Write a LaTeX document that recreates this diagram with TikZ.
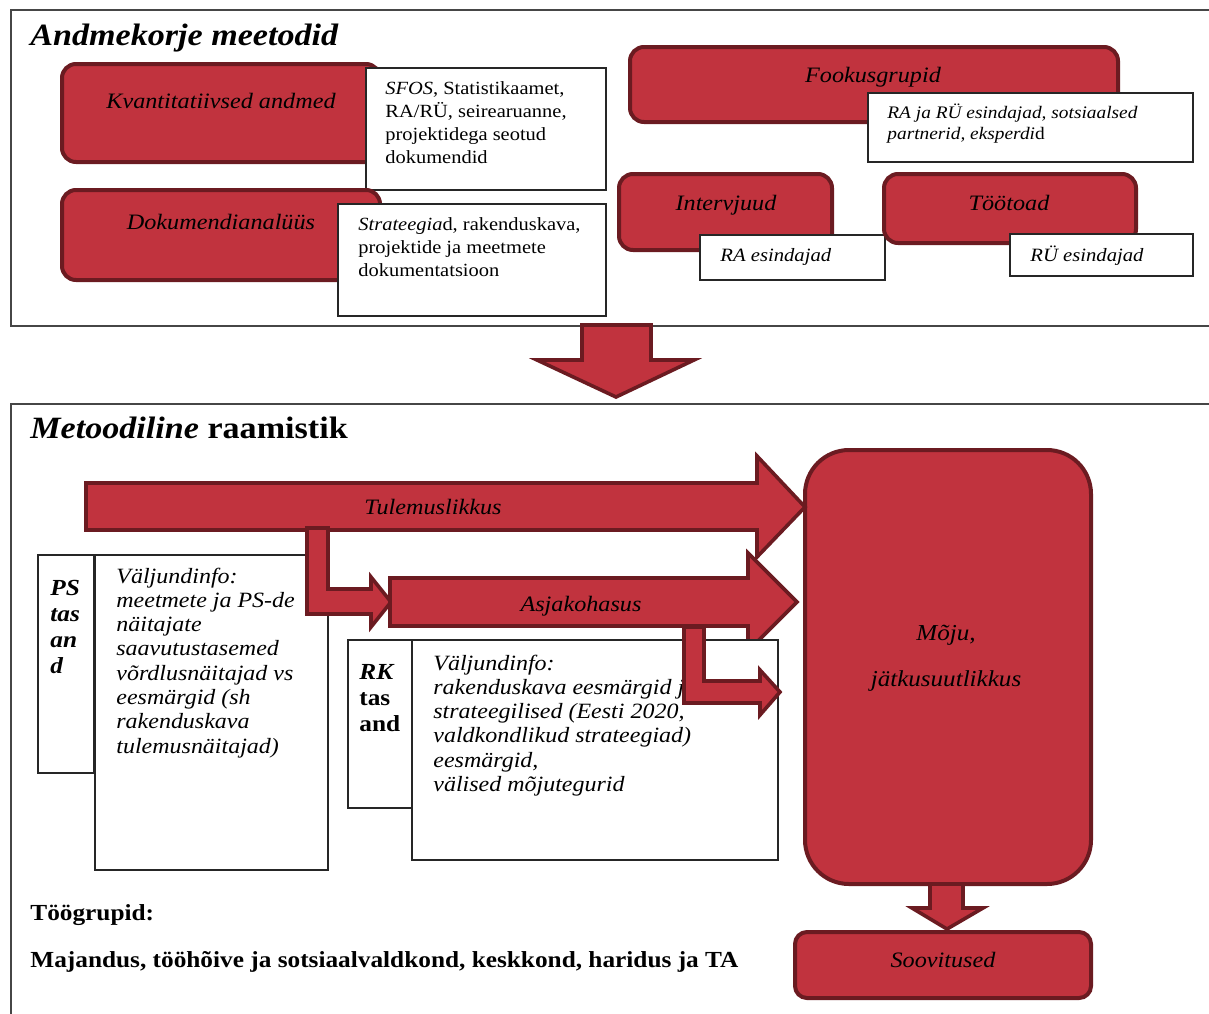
\documentclass[tikz,border=0pt]{standalone}
\usepackage{fontspec}
\setmainfont[FakeStretch=1.1]{Liberation Serif}
\usetikzlibrary{fit}
\definecolor{boxred}{RGB}{193,51,62}
\definecolor{darkred}{RGB}{107,27,33}
\definecolor{framegray}{RGB}{70,70,70}
\tikzstyle{frame} = [draw=framegray, line width=0.8pt]
\tikzstyle{redbox} = [draw=darkred, fill=boxred, line width=2pt, rounded corners=7pt, inner sep=0pt]
\tikzstyle{whitebox} = [draw=black!85, fill=white, line width=0.6pt, inner sep=0pt]
\tikzstyle{blockarrow} = [draw=darkred, fill=boxred, line width=1.8pt, line join=miter]
\tikzstyle{txt} = [inner sep=0pt, anchor=base west]
\tikzstyle{titletext} = [txt, font=\fontsize{15.5}{18}\selectfont]
\tikzstyle{redlabel} = [inner sep=0pt, anchor=base, font=\fontsize{11}{13}\selectfont\itshape]
\tikzstyle{notetext} = [txt, font=\fontsize{9.3}{11.5}\selectfont]
\tikzstyle{smallnote} = [txt, font=\fontsize{8.8}{10.5}\selectfont\itshape]
\tikzstyle{infotext} = [txt, font=\fontsize{10.9}{12.15}\selectfont\itshape]
\tikzstyle{leveltext} = [txt, font=\fontsize{11.5}{13}\selectfont\bfseries]
\tikzstyle{bottomtext} = [txt, font=\fontsize{11.5}{13}\selectfont\bfseries]
\newcommand{\boxlines}[1]{\begin{tabular}[t]{@{}l@{}}#1\end{tabular}}

\begin{document}
\begin{tikzpicture}[x=0.5pt, y=-0.5pt]
\useasboundingbox (0,0) rectangle (1209,1013);

% andmekorje meetodid
\draw[frame] (11,10) rectangle (1214,326);
\node[titletext] (methodstitle) at (30,45) {\textbf{\textit{Andmekorje meetodid}}};

\node[redbox, fit={(62,64) (380,162)}] (kvant) {};
\node[redlabel] (kvantlabel) at (221,108) {Kvantitatiivsed andmed};
\node[whitebox, fit={(366,68) (606,190)}] (kvantnote) {};
\node[notetext] (kvanttext) at (385,94) {\boxlines{\textit{SFOS}, Statistikaamet,\\RA/RÜ, seirearuanne,\\projektidega seotud\\dokumendid}};

\node[redbox, fit={(62,190) (380,280)}] (dokum) {};
\node[redlabel] (dokumlabel) at (221,229) {Dokumendianalüüs};
\node[whitebox, fit={(338,204) (606,316)}] (dokumnote) {};
\node[notetext] (dokumtext) at (358,230) {\boxlines{\textit{Strateegia}d, rakenduskava,\\projektide ja meetmete\\dokumentatsioon}};

\node[redbox, fit={(630,47) (1118,122)}] (fookus) {};
\node[redlabel] (fookuslabel) at (873,82) {Fookusgrupid};
\node[whitebox, fit={(868,93) (1193,162)}] (fookusnote) {};
\node[smallnote] (fookustext) at (887,118) {\boxlines{RA ja RÜ esindajad, sotsiaalsed\\partnerid, eksperdi\textup{d}}};

\node[redbox, fit={(619,174) (832,250)}] (interv) {};
\node[redlabel] (intervlabel) at (726,210) {Intervjuud};
\node[whitebox, fit={(700,235) (885,280)}] (intervnote) {};
\node[notetext, font=\fontsize{9.4}{11.5}\selectfont\itshape] (intervtext) at (720,261) {RA esindajad};

\node[redbox, fit={(884,174) (1136,243)}] (tootoad) {};
\node[redlabel] (tootoadlabel) at (1009,210) {Töötoad};
\node[whitebox, fit={(1010,234) (1193,276)}] (tootoadnote) {};
\node[notetext, font=\fontsize{9.4}{11.5}\selectfont\itshape] (tootoadtext) at (1030,261) {RÜ esindajad};

% suur nool alla
\draw[blockarrow] (582,325) -- (651,325) -- (651,360) -- (694,360) -- (616,397) -- (537,360) -- (582,360) -- cycle;

% metoodiline raamistik
\draw[frame] (11,404) rectangle (1214,1016);
\node[titletext] (frametitle) at (30,438) {\textbf{\textit{Metoodiline} raamistik}};

\node[redbox, rounded corners=22pt, fit={(805,450) (1091,884)}] (moju) {};
\node[inner sep=0pt, anchor=base, font=\fontsize{11.4}{13.5}\selectfont\itshape] (mojulabel) at (946,640) {\begin{tabular}[t]{@{}c@{}}Mõju,\\[9.5pt]jätkusuutlikkus\end{tabular}};

\draw[blockarrow] (930,884) -- (963,884) -- (963,908) -- (983,908) -- (947,929) -- (912,908) -- (930,908) -- cycle;
\node[redbox, rounded corners=6pt, fit={(795,932) (1091,998)}] (soovitused) {};
\node[redlabel] (soovituslabel) at (943,967) {Soovitused};

\draw[blockarrow] (86,483) -- (757,483) -- (757,456) -- (805,507) -- (757,557) -- (757,530) -- (86,530) -- cycle;
\node[redlabel] (tulemuslabel) at (433,514) {Tulemuslikkus};

\node[whitebox, fit={(38,555) (94,773)}] (pslevel) {};
\node[leveltext] (pstext) at (50,595) {\boxlines{\textit{PS}\\\textit{tas}\\\textit{an}\\\textit{d}}};
\node[whitebox, fit={(95,555) (328,870)}] (psinfo) {};
\node[infotext] (psinfotext) at (116,583) {\boxlines{Väljundinfo:\\meetmete ja PS-de\\näitajate\\saavutustasemed\\võrdlusnäitajad vs\\eesmärgid (sh\\rakenduskava\\tulemusnäitajad)}};

\draw[blockarrow] (307,528) -- (328,528) -- (328,589) -- (371,589) -- (371,577) -- (391,602) -- (371,627) -- (371,614) -- (307,614) -- cycle;

\draw[blockarrow] (390,578) -- (748,578) -- (748,553) -- (797,602) -- (748,651) -- (748,626) -- (390,626) -- cycle;
\node[redlabel] (asjakohalabel) at (581,611) {Asjakohasus};

\node[whitebox, fit={(348,640) (412,808)}] (rklevel) {};
\node[leveltext] (rktext) at (359,679) {\boxlines{\textit{RK}\\tas\\and}};
\node[whitebox, fit={(412,640) (778,860)}] (rkinfo) {};
\node[infotext] (rkinfotext) at (433,670) {\boxlines{Väljundinfo:\\rakenduskava eesmärgid ja\\strateegilised (Eesti 2020,\\valdkondlikud strateegiad)\\eesmärgid,\\välised mõjutegurid}};

\draw[blockarrow] (684,627) -- (704,627) -- (704,681) -- (760,681) -- (760,670) -- (780,692) -- (760,715) -- (760,703) -- (684,703) -- cycle;

\node[bottomtext] (groupstitle) at (30,920) {Töögrupid:};
\node[bottomtext] (groupslist) at (30,967) {Majandus, tööhõive ja sotsiaalvaldkond, keskkond, haridus ja TA};
\end{tikzpicture}
\end{document}
